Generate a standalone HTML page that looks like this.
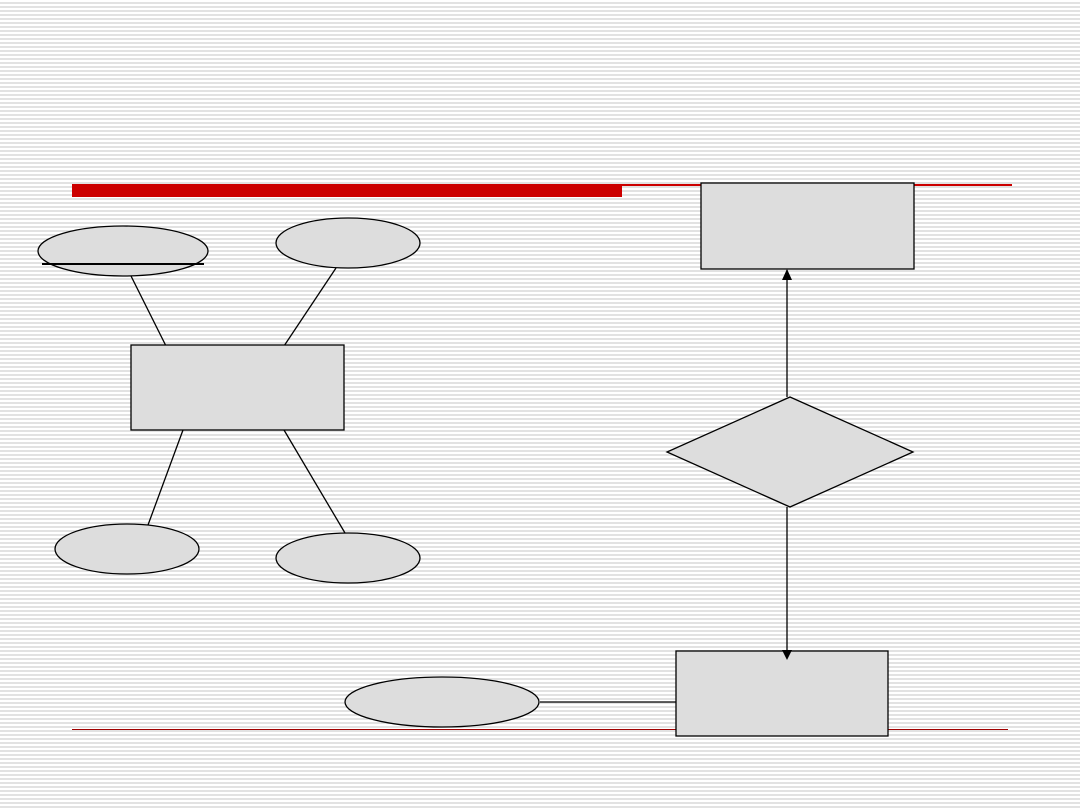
<!DOCTYPE html>
<html><head><meta charset="utf-8"><style>
html,body{margin:0;padding:0;width:1080px;height:810px;overflow:hidden;
background:repeating-linear-gradient(to bottom,#fff 0,#fff 2px,#e2e2e2 2px,#e2e2e2 4px);}
svg{position:absolute;left:0;top:0}
</style></head><body>
<svg width="1080" height="810" viewBox="0 0 1080 810">
<rect x="72" y="184" width="550" height="13" fill="#cc0000"/>
<line x1="622" y1="185" x2="1012" y2="185" stroke="#cc0000" stroke-width="2"/>
<rect x="72" y="729" width="936" height="1" fill="#a00000"/>
<g stroke="#000" stroke-width="1.3" fill="#dddddd">
<line x1="131" y1="276" x2="166" y2="346"/>
<line x1="336" y1="268" x2="284" y2="346"/>
<line x1="183" y1="430" x2="148" y2="525"/>
<line x1="284" y1="430" x2="345" y2="533"/>
<line x1="540" y1="702" x2="676" y2="702"/>
<line x1="787" y1="270" x2="787" y2="397"/>
<line x1="787" y1="507" x2="787" y2="652"/>
<ellipse cx="123" cy="251" rx="85" ry="25"/>
<ellipse cx="348" cy="243" rx="72" ry="25"/>
<ellipse cx="127" cy="549" rx="72" ry="25"/>
<ellipse cx="348" cy="558" rx="72" ry="25"/>
<ellipse cx="442" cy="702" rx="97" ry="25"/>
<rect x="131" y="345" width="213" height="85"/>
<rect x="701" y="183" width="213" height="86"/>
<rect x="676" y="651" width="212" height="85"/>
<polygon points="790,397 913,452 790,507 667,452"/>
</g>
<line x1="42" y1="264" x2="204" y2="264" stroke="#000" stroke-width="2"/>
<polygon points="782,280 792,280 787,269" fill="#000"/>
<polygon points="782,650 792,650 787,660" fill="#000"/>
</svg>
</body></html>
